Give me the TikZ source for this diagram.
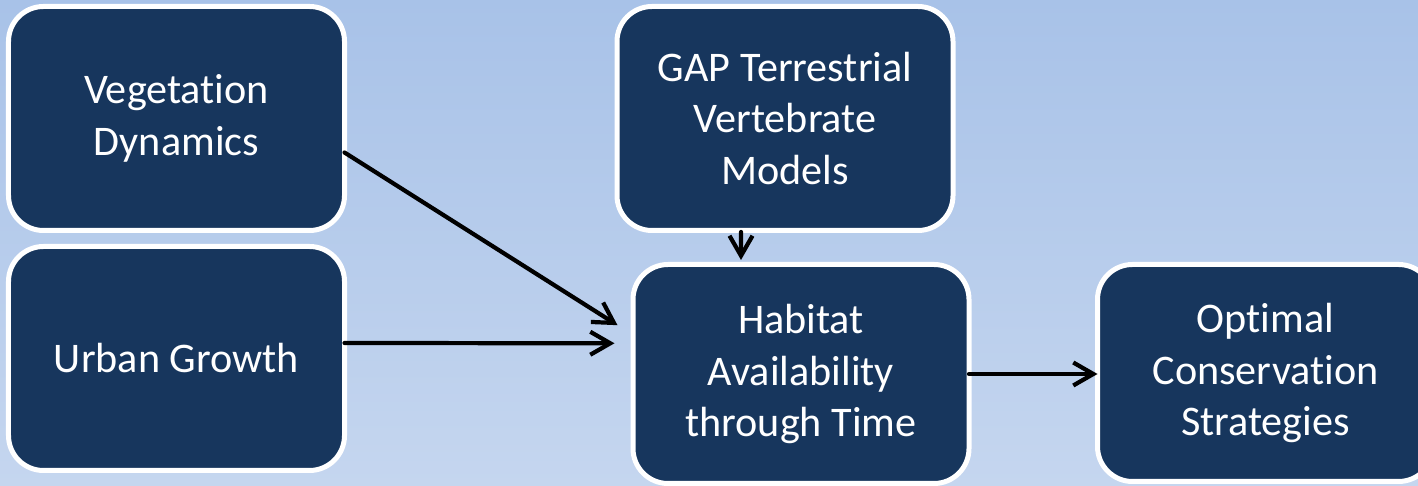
\documentclass[tikz,border=0pt]{standalone}
\usepackage{fontspec}
\setmainfont{Carlito}[Ligatures=NoCommon]
\usetikzlibrary{arrows.meta}
\usetikzlibrary{calc}
\definecolor{azulcaja}{RGB}{23,54,93}
\definecolor{fondoarriba}{RGB}{168,194,232}
\definecolor{fondoabajo}{RGB}{197,214,239}
\tikzstyle{caja}=[draw=white, line width=0.5mm, fill=azulcaja, rounded corners=3.5mm, text=white, align=center, minimum width=3.36cm, minimum height=2.24cm, outer sep=0pt, font=\fontsize{12}{14.6}\selectfont]
\tikzstyle{flecha}=[line width=1.2pt, line cap=round, line join=round, -{Straight Barb[length=2mm,width=2.3mm]}]

\begin{document}
\begin{tikzpicture}
          %fondo
          \useasboundingbox (0,0) rectangle (14.18,-4.86);
          \clip (0,0) rectangle (14.18,-4.86);
          \shade[top color=fondoarriba, bottom color=fondoabajo] (0,0) rectangle (14.18,-4.86);
          %cajas
          \node[caja] (veg) at (1.765,-1.185) {Vegetation\\Dynamics};
          \node[caja] (urb) at (1.765,-3.585) {Urban Growth};
          \node[caja] (gap) at (7.85,-1.185) {GAP Terrestrial\\Vertebrate\\Models};
          \node[caja, minimum height=2.19cm] (hab) at (8.01,-3.74) {Habitat\\Availability\\through Time};
          \node[caja, minimum height=2.17cm] (opt) at (12.655,-3.73) {Optimal\\Conservation\\Strategies};
          %flechas
          \draw[flecha] ([yshift=-3.4mm]veg.east) -- ([xshift=-1.55mm,yshift=4.88mm]hab.west);
          \draw[flecha] ([yshift=1.55mm]urb.east) -- ([xshift=-1.85mm,yshift=3.07mm]hab.west);
          \draw[flecha] ([xshift=-4.4mm,yshift=-0.15mm]gap.south) -- ([xshift=-6mm,yshift=0.45mm]hab.north);
          \draw[flecha] (hab.east) -- (hab.east -| opt.west);
        \end{tikzpicture}
\end{document}
